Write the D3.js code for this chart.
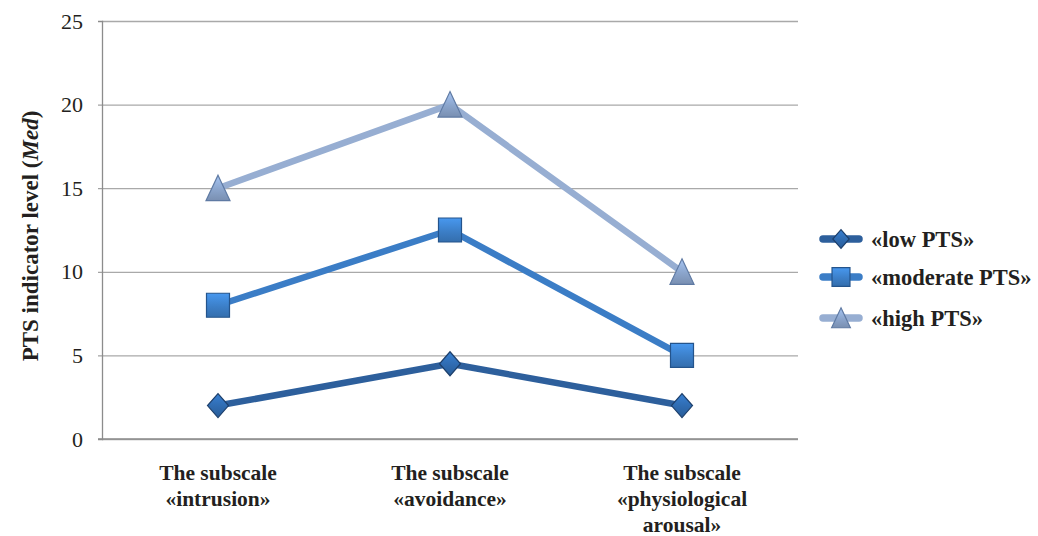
<!DOCTYPE html>
<html>
<head>
<meta charset="utf-8">
<script src="https://cdn.jsdelivr.net/npm/d3@7"></script>
<style>
  html, body { margin: 0; padding: 0; background: #fff; }
  svg { display: block; }
</style>
</head>
<body>
<svg id="chart" width="1038" height="536"></svg>
<script>
// Subscales on the horizontal axis
const categories = [
  ["The subscale", "«intrusion»"],
  ["The subscale", "«avoidance»"],
  ["The subscale", "«physiological", "arousal»"]
];
// Median PTS indicator level per group
const lowPTS = [2, 4.5, 2];
const moderatePTS = [8, 12.5, 5];
const highPTS = [15, 20, 10];
const seriesNames = ["«low PTS»", "«moderate PTS»", "«high PTS»"];
const yTicks = [0, 5, 10, 15, 20, 25];

const FONT = "'Liberation Serif', 'Times New Roman', Tinos, 'DejaVu Serif', serif";

const series = [
  { name: seriesNames[0], values: lowPTS, line: "#2d5f9c", fill: "#2f6bb0", stroke: "#1d3f6b", shape: "diamond" },
  { name: seriesNames[1], values: moderatePTS, line: "#3b7dc6", fill: "#3c7fc8", stroke: "#24548c", shape: "square" },
  { name: seriesNames[2], values: highPTS, line: "#97aed2", fill: "#8ba5cc", stroke: "#5f7aa3", shape: "triangle" }
];

const svg = d3.select("#chart").attr("font-family", FONT);
const margin = { left: 102, right: 240, top: 21, bottom: 97 };
const W = 1038, H = 536;
const x = d3.scaleBand().domain(d3.range(categories.length)).range([margin.left, W - margin.right]);
const y = d3.scaleLinear().domain([0, 25]).range([H - margin.bottom, margin.top]);

// Marker shading
const defs = svg.append("defs");
series.forEach((s, i) => {
  const g = defs.append("linearGradient").attr("id", "grad" + i)
    .attr("x1", 0).attr("y1", 0).attr("x2", 0).attr("y2", 1);
  g.append("stop").attr("offset", "0%").attr("stop-color", d3.color(s.fill).brighter(0.5));
  g.append("stop").attr("offset", "55%").attr("stop-color", s.fill);
  g.append("stop").attr("offset", "100%").attr("stop-color", d3.color(s.fill).darker(0.4));
});

// Gridlines
svg.append("g")
  .attr("transform", `translate(${margin.left},0)`)
  .call(d3.axisLeft(y).tickValues(yTicks).tickSize(-(W - margin.left - margin.right)).tickFormat(""))
  .call(g => g.select(".domain").remove())
  .call(g => g.selectAll("line").attr("stroke", "#a9a9a9").attr("stroke-width", 1.3));

// Y axis with ticks and labels
svg.append("g")
  .attr("transform", `translate(${margin.left},0)`)
  .call(d3.axisLeft(y).tickValues(yTicks).tickSize(4).tickPadding(15))
  .attr("font-family", FONT).attr("font-size", 22)
  .call(g => g.select(".domain").attr("stroke", "#8c8c8c").attr("stroke-width", 1.3))
  .call(g => g.selectAll("line").attr("stroke", "#8c8c8c"))
  .call(g => g.selectAll("text").attr("font-family", FONT).attr("fill", "#231f20"));

// X axis baseline
svg.append("line")
  .attr("x1", margin.left - 4).attr("x2", W - margin.right)
  .attr("y1", y(0)).attr("y2", y(0))
  .attr("stroke", "#8c8c8c").attr("stroke-width", 1.3);

// Category labels
const xl = svg.append("g");
categories.forEach((lines, i) => {
  const t = xl.append("text")
    .attr("x", x(i) + x.bandwidth() / 2)
    .attr("y", 480)
    .attr("text-anchor", "middle")
    .attr("font-family", FONT).attr("font-size", 21.5).attr("font-weight", "bold").attr("fill", "#231f20");
  lines.forEach((l, j) => t.append("tspan").attr("x", x(i) + x.bandwidth() / 2).attr("dy", j ? 26 : 0).text(l));
});

// Y axis title
const yt = svg.append("text")
  .attr("transform", `translate(38,236) rotate(-90)`)
  .attr("text-anchor", "middle")
  .attr("font-family", FONT).attr("font-size", 23).attr("font-weight", "bold").attr("fill", "#231f20");
yt.append("tspan").text("PTS indicator level (");
yt.append("tspan").attr("font-style", "italic").text("Med");
yt.append("tspan").text(")");

function marker(sel, shape, i, k) {
  let p;
  if (shape === "diamond") p = `M0,${-12 * k} L${10.5 * k},0 L0,${12 * k} L${-10.5 * k},0 Z`;
  else if (shape === "square") p = `M${-11.5 * k},${-12 * k} H${11.5 * k} V${12 * k} H${-11.5 * k} Z`;
  else p = `M0,${-13 * k} L${12 * k},${12.5 * k} L${-12 * k},${12.5 * k} Z`;
  sel.append("path").attr("d", p)
    .attr("fill", `url(#grad${i})`)
    .attr("stroke", series[i].stroke).attr("stroke-width", 1.2);
}

const cx = i => x(i) + x.bandwidth() / 2;
const line = d3.line().x((d, i) => cx(i)).y(d => y(d));

// Series lines and markers
series.forEach((s, i) => {
  svg.append("path").datum(s.values)
    .attr("d", line).attr("fill", "none")
    .attr("stroke", s.line).attr("stroke-width", 6.5).attr("stroke-linejoin", "round");
  s.values.forEach((v, k) => {
    const g = svg.append("g").attr("transform", `translate(${cx(k)},${y(v)})`);
    marker(g, s.shape, i, 1);
  });
});

// Legend
const legendY = [239, 277, 318];
series.forEach((s, i) => {
  const g = svg.append("g").attr("transform", `translate(0,${legendY[i]})`);
  g.append("line").attr("x1", 823).attr("x2", 859).attr("y1", 0).attr("y2", 0)
    .attr("stroke", s.line).attr("stroke-width", 7.5).attr("stroke-linecap", "round");
  const m = g.append("g").attr("transform", "translate(841,0)");
  marker(m, s.shape, i, 0.78);
  g.append("text").attr("x", 871).attr("y", 8)
    .attr("font-family", FONT).attr("font-size", 22.5).attr("font-weight", "bold").attr("fill", "#231f20")
    .text(s.name);
});
</script>
</body>
</html>
